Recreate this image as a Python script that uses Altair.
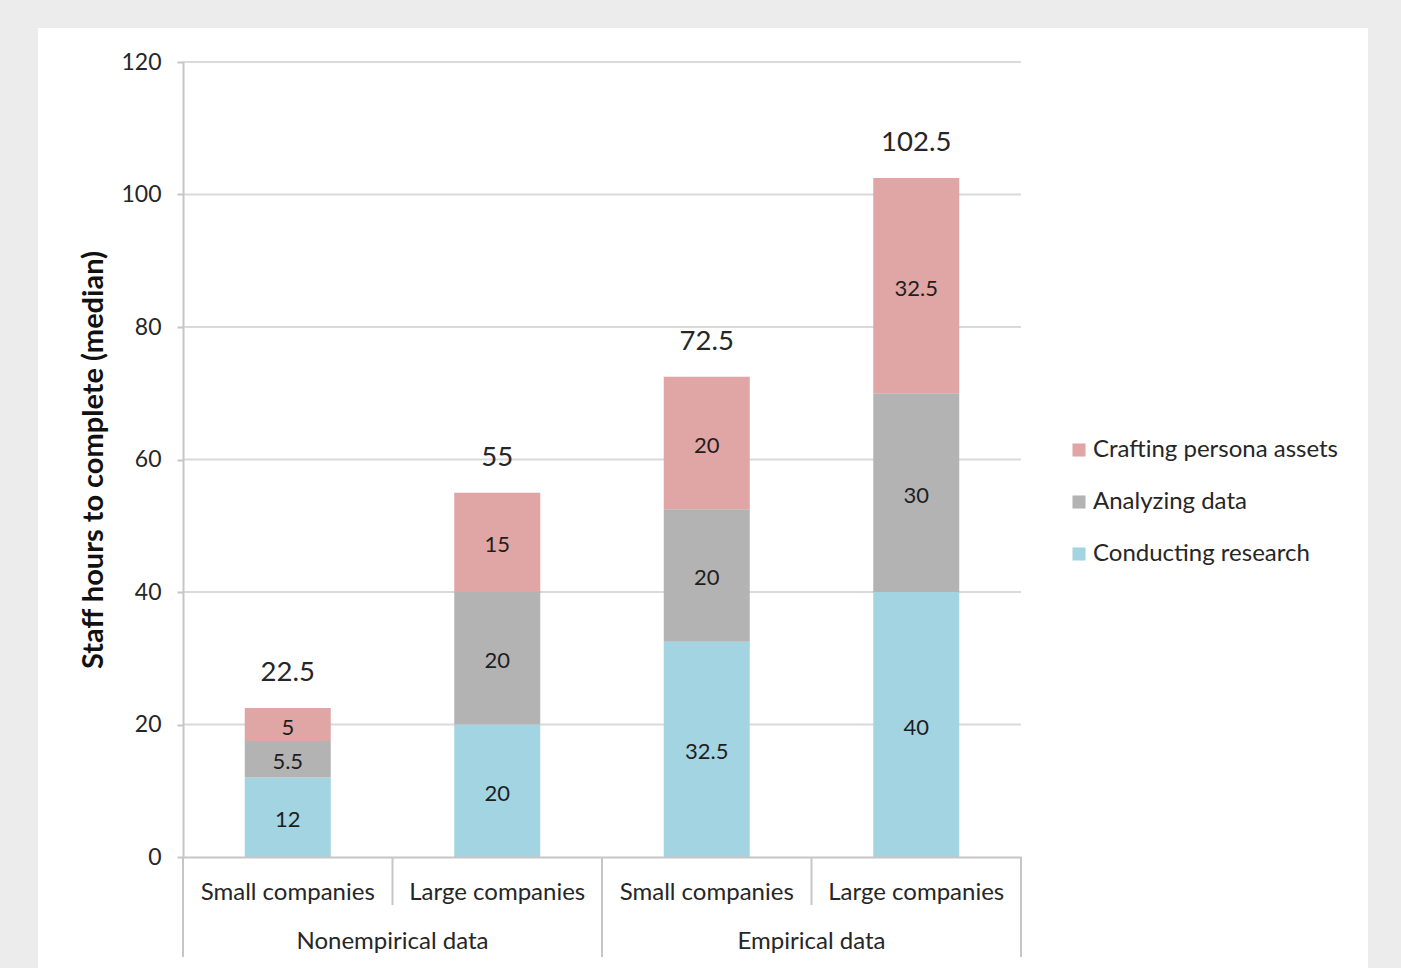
import altair as alt
import pandas as pd

# ---- data ----
groups = ["Nonempirical data", "Empirical data"]
subcats = ["Small companies", "Large companies", "Small companies", "Large companies"]
bar_group = ["Nonempirical data", "Nonempirical data", "Empirical data", "Empirical data"]
series = ["Conducting research", "Analyzing data", "Crafting persona assets"]
conducting = [12, 20, 32.5, 40]
analyzing = [5.5, 20, 20, 30]
crafting = [5, 15, 20, 32.5]
totals = [22.5, 55, 72.5, 102.5]
y_ticks = [0, 20, 40, 60, 80, 100, 120]

colors = {"Crafting persona assets": "#e0a5a5",
          "Analyzing data": "#b3b3b3",
          "Conducting research": "#a3d4e2"}

rows = []
for i in range(4):
    for k, (name, vals) in enumerate(zip(series, [conducting, analyzing, crafting])):
        rows.append({"idx": i, "series": name, "value": vals[i], "order": k,
                     "label": f"{vals[i]:g}"})
df = pd.DataFrame(rows)
tot_df = pd.DataFrame({"idx": list(range(4)), "total": totals,
                       "label": [f"{t:g}" for t in totals]})
cat_df = pd.DataFrame({"idx": list(range(4)), "sub": subcats})
grp_df = pd.DataFrame({"gidx": [0, 1], "group": groups})
grid_df = pd.DataFrame({"y": y_ticks[1:]})
outer_sep = pd.DataFrame({"pos": [0, 2, 4]})
inner_sep = pd.DataFrame({"pos": [1, 3]})
panel_df = pd.DataFrame({"a": [0]})

W, H = 838, 795
FONT = "Lato"
TXT = "#262626"
LINE = "#c6c6c6"

xscale = alt.Scale(domain=[0, 4], nice=False, zero=False, padding=0)
yscale = alt.Scale(domain=[0, 120], nice=False, padding=0)

panel = alt.Chart(panel_df).mark_rect(color="white").encode(
    x=alt.value(-145), x2=alt.value(1185), y=alt.value(-34), y2=alt.value(930))

grid = alt.Chart(grid_df).mark_rule(color="#dadada", strokeWidth=2).encode(
    y=alt.Y("y:Q", scale=yscale), x=alt.value(0), x2=alt.value(W))

base = alt.Chart(df).transform_calculate(center="datum.idx + 0.5")

bars = base.mark_bar(size=86).encode(
    x=alt.X("center:Q", scale=xscale,
            axis=alt.Axis(labels=False, ticks=False, grid=False, domainColor=LINE,
                          domainWidth=2, title=None, zindex=1)),
    y=alt.Y("sum(value):Q", stack="zero", scale=yscale,
            axis=alt.Axis(values=y_ticks, grid=False, zindex=1,
                          domainColor=LINE, domainWidth=2, tickColor=LINE,
                          tickWidth=2, tickSize=6, labelFontSize=23, labelColor=TXT,
                          labelFont=FONT, labelPadding=16,
                          title="Staff hours to complete (median)", titleFontSize=29,
                          titleFont=FONT, titleFontWeight="bold", titleColor="#111111",
                          titlePadding=12)),
    color=alt.Color("series:N",
                    scale=alt.Scale(domain=list(colors.keys()), range=list(colors.values())),
                    legend=alt.Legend(title=None, orient="none", legendX=884, legendY=376,
                                      symbolType="square", symbolSize=170,
                                      symbolStrokeWidth=0, labelFontSize=24,
                                      labelFont=FONT, labelColor=TXT, rowPadding=28,
                                      labelOffset=2, labelLimit=400)),
    order=alt.Order("order:Q"),
)

seg_labels = base.transform_stack(
    stack="value", groupby=["idx"], as_=["v0", "v1"], sort=[alt.SortField("order")]
).transform_calculate(mid="(datum.v0 + datum.v1) / 2").mark_text(
    fontSize=22, font=FONT, color="#1e1e1e", baseline="middle", dy=3
).encode(x=alt.X("center:Q", scale=xscale), y=alt.Y("mid:Q", scale=yscale), text="label:N")

tot_labels = alt.Chart(tot_df).transform_calculate(center="datum.idx + 0.5").mark_text(
    fontSize=27.5, font=FONT, color=TXT, baseline="alphabetic", dy=-27
).encode(x=alt.X("center:Q", scale=xscale), y=alt.Y("total:Q", scale=yscale), text="label:N")

cat_labels = alt.Chart(cat_df).transform_calculate(center="datum.idx + 0.5").mark_text(
    fontSize=24, font=FONT, color=TXT, baseline="middle"
).encode(x=alt.X("center:Q", scale=xscale), y=alt.value(H + 36), text="sub:N")

grp_labels = alt.Chart(grp_df).transform_calculate(center="datum.gidx * 2 + 1").mark_text(
    fontSize=24, font=FONT, color=TXT, baseline="middle"
).encode(x=alt.X("center:Q", scale=xscale), y=alt.value(H + 85), text="group:N")

outer_rules = alt.Chart(outer_sep).mark_rule(color=LINE, strokeWidth=2).encode(
    x=alt.X("pos:Q", scale=xscale), y=alt.value(H), y2=alt.value(H + 100))
inner_rules = alt.Chart(inner_sep).mark_rule(color=LINE, strokeWidth=2).encode(
    x=alt.X("pos:Q", scale=xscale), y=alt.value(H), y2=alt.value(H + 48))

chart = alt.layer(panel, grid, bars, seg_labels, tot_labels, cat_labels, grp_labels,
                  outer_rules, inner_rules).properties(
    width=W, height=H, background="#ececec",
    autosize=alt.AutoSizeParams(type="none"),
    padding={"left": 183, "top": 62, "right": 380, "bottom": 111},
).configure_view(stroke=None)

chart.save("out.html", embed_options={"renderer": "svg", "actions": False})
